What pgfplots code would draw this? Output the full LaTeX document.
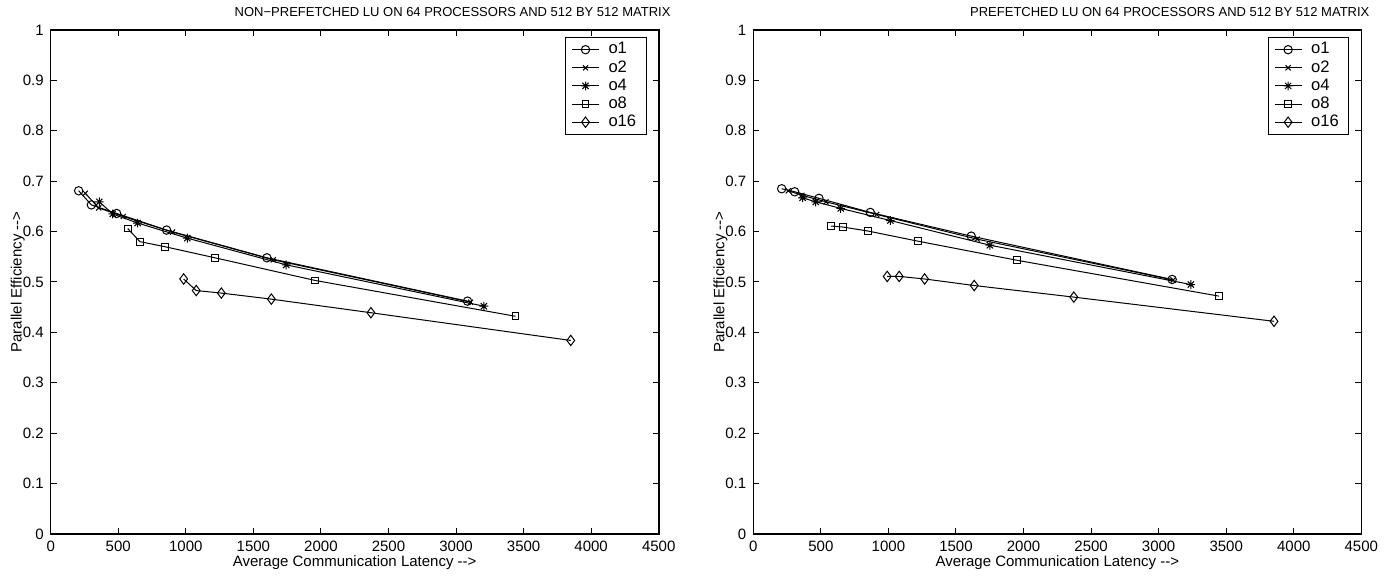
\documentclass[border=0pt]{standalone}
\usepackage{fontspec}
\setmainfont{Liberation Sans}
\usepackage{pgfplots}
\pgfplotsset{compat=1.18}

% MATLAB-like '*' marker (8 rays)
\pgfdeclareplotmark{mstar}{%
  \pgfpathmoveto{\pgfqpoint{-\pgfplotmarksize}{0pt}}\pgfpathlineto{\pgfqpoint{\pgfplotmarksize}{0pt}}%
  \pgfpathmoveto{\pgfqpoint{0pt}{-\pgfplotmarksize}}\pgfpathlineto{\pgfqpoint{0pt}{\pgfplotmarksize}}%
  \pgfpathmoveto{\pgfqpoint{-.707\pgfplotmarksize}{-.707\pgfplotmarksize}}\pgfpathlineto{\pgfqpoint{.707\pgfplotmarksize}{.707\pgfplotmarksize}}%
  \pgfpathmoveto{\pgfqpoint{-.707\pgfplotmarksize}{.707\pgfplotmarksize}}\pgfpathlineto{\pgfqpoint{.707\pgfplotmarksize}{-.707\pgfplotmarksize}}%
  \pgfusepathqstroke}

\pgfplotsset{
  effaxis/.style={
    scale only axis, width=304pt, height=252pt,
    xmin=0, xmax=4500, ymin=0, ymax=1,
    xtick={0,500,1000,1500,2000,2500,3000,3500,4000,4500},
    ytick={0,0.1,0.2,0.3,0.4,0.5,0.6,0.7,0.8,0.9,1},
    yticklabels={0,0.1,0.2,0.3,0.4,0.5,0.6,0.7,0.8,0.9,1},
    tick align=inside, major tick length=3pt,
    axis line style={line width=0.8pt},
    tick style={line width=0.5pt, black},
    ticklabel style={font=\fontsize{7.5}{9}\selectfont},
    /pgf/number format/assume math mode=true,
    /pgf/number format/1000 sep={},
    xlabel={Average Communication Latency -{}->},
    ylabel={Parallel Efficiency -{}->},
    label style={font=\fontsize{7.5}{9}\selectfont},
    xlabel style={at={(0.5,-0.0575)}, anchor=center},
    ylabel style={at={(-0.054,0.5)}, anchor=center, rotate=0},
    title style={font=\fontsize{6.5}{8}\selectfont, anchor=east, inner sep=0pt, yshift=0pt, at={(1.02,1.012)}},
    every axis plot/.append style={black, line width=0.5pt, mark options={solid, line width=0.5pt}},
    legend cell align=left,
    legend style={at={(1,1)}, xshift=-6pt, yshift=-3.5pt, anchor=north east,
      font=\fontsize{8.3}{9}\selectfont, draw=black, line width=0.5pt,
      inner xsep=3pt, inner ysep=0.5pt, row sep=-2.2pt,
      /tikz/every odd column/.append style={column sep=2.5pt}},
    legend image code/.code={\draw[mark repeat=2,mark phase=2,#1] plot coordinates {(0pt,0pt)(6.75pt,0pt)(13.5pt,0pt)};},
    s1/.style={mark=o, mark size=2.1pt},
    s2/.style={mark=x, mark size=1.8pt},
    s4/.style={mark=mstar, mark size=2.2pt},
    s8/.style={mark=square, mark size=1.7pt},
    s16/.style={mark=diamond, mark size=2.6pt},
  }
}

\begin{document}
\begin{tikzpicture}
\path[use as bounding box] (-25.35pt,-21pt) rectangle (672.15pt,267pt);

\begin{axis}[effaxis, at={(0pt,0pt)}, anchor=south west,
  title={NON−PREFETCHED LU ON 64 PROCESSORS AND 512 BY 512 MATRIX}]
\addplot[s1] coordinates {(207,0.681) (301,0.653) (488,0.636) (858,0.603) (1600,0.548) (3085,0.462)};
\addplot[s2] coordinates {(256,0.676) (355,0.647) (537,0.630) (902,0.599) (1647,0.544) (3107,0.460)};
\addplot[s4] coordinates {(360,0.659) (459,0.635) (643,0.617) (1011,0.587) (1743,0.534) (3206,0.452)};
\addplot[s8] coordinates {(570,0.606) (661,0.580) (846,0.570) (1216,0.548) (1958,0.503) (3440,0.432)};
\addplot[s16] coordinates {(984,0.506) (1077,0.483) (1263,0.478) (1633,0.466) (2370,0.439) (3849,0.384)};
\legend{o1,o2,o4,o8,o16}
\end{axis}

\begin{axis}[effaxis, at={(351.3pt,0pt)}, anchor=south west,
  title={PREFETCHED LU ON 64 PROCESSORS AND 512 BY 512 MATRIX},
  title style={at={(1.014,1.012)}}]
\addplot[s1] coordinates {(210,0.685) (306,0.679) (486,0.666) (866,0.638) (1613,0.591) (3100,0.505)};
\addplot[s2] coordinates {(259,0.681) (360,0.672) (538,0.659) (913,0.634) (1657,0.585) (3107,0.504)};
\addplot[s4] coordinates {(365,0.667) (462,0.659) (647,0.646) (1014,0.622) (1751,0.573) (3238,0.495)};
\addplot[s8] coordinates {(575,0.611) (664,0.609) (851,0.601) (1218,0.581) (1953,0.543) (3445,0.472)};
\addplot[s16] coordinates {(991,0.511) (1080,0.511) (1268,0.506) (1635,0.493) (2372,0.470) (3854,0.422)};
\legend{o1,o2,o4,o8,o16}
\end{axis}
\end{tikzpicture}
\end{document}
